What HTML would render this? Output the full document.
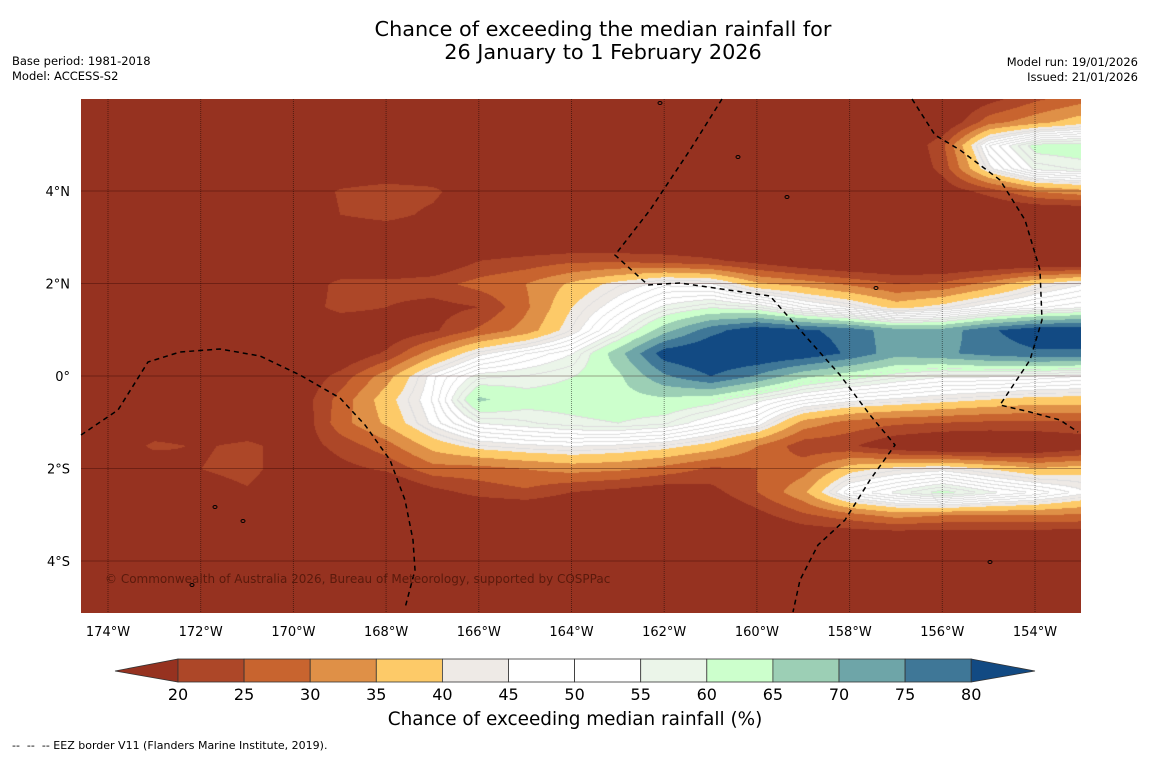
<!DOCTYPE html>
<html><head><meta charset="utf-8">
<style>
body{margin:0;background:#fff;font-family:"DejaVu Sans","Liberation Sans",sans-serif;}
#wrap{position:relative;width:1150px;height:758px;overflow:hidden;background:#fff;}
.t{position:absolute;white-space:nowrap;color:#000;}
</style></head><body>
<div id="wrap">
<div class="t" style="left:0;width:1206px;text-align:center;top:18px;font-size:20.8px;line-height:23px;">Chance of exceeding the median rainfall for<br>26 January to 1 February 2026</div>
<div class="t" style="left:12px;top:54px;font-size:11.5px;line-height:15px;">Base period: 1981-2018<br>Model: ACCESS-S2</div>
<div class="t" style="right:12px;top:55px;font-size:11.5px;line-height:15px;text-align:right;">Model run: 19/01/2026<br>Issued: 21/01/2026</div>
<canvas id="map" width="1000" height="514" style="position:absolute;left:81px;top:99px;"></canvas>
<svg id="ov" width="1150" height="758" style="position:absolute;left:0;top:0;"></svg>
<div class="t" style="left:105px;top:572px;font-size:12px;color:#5a1a0c;">© Commonwealth of Australia 2026, Bureau of Meteorology, supported by COSPPac</div>
<div class="t" style="left:0;width:1150px;text-align:center;top:709px;font-size:18.4px;">Chance of exceeding median rainfall (%)</div>
<div class="t" style="left:12px;top:739px;font-size:11px;">--&nbsp; --&nbsp; -- EEZ border V11 (Flanders Marine Institute, 2019).</div>
</div>
<script>
// grid longitudes (deg, negative = W) and latitudes
const lons=[-175,-174,-173,-172,-171,-170,-169,-168,-167,-166,-165,-164,-163,-162,-161,-160,-159,-158,-157,-156,-155,-154,-153];
const lats=[6,5.5,5,4.5,4,3.5,3,2.5,2,1.5,1,0.5,0,-0.5,-1,-1.5,-2,-2.5,-3,-3.5,-4,-4.5,-5,-5.5];
// chance of exceeding median (%) per lat row
const r6  =[19,19,16,12,12,12,12,12,12,12,12,12,12,12,12,12,12,12,12,12,18,24,28];
const r55 =[14,14,12,12,12,12,12,12,12,12,12,12,12,12,12,12,12,12,12,14,28,33,38];
const r5  =[12,12,12,12,12,12,12,12,12,12,12,12,12,12,12,12,12,12,12,24,50,62,63];
const r45 =[12,12,12,12,12,12,12,12,12,12,12,12,12,12,12,12,12,12,12,22,44,56,58];
const r4  =[12,12,12,12,12,12,21,24,22,12,12,12,12,12,12,12,12,12,12,16,22,30,33];
const r35 =[12,12,12,12,12,12,20,23,18,12,12,12,12,12,12,12,12,12,12,12,12,12,12];
const r3  =[12,12,12,12,12,12,12,12,12,12,12,12,12,12,12,12,12,12,12,12,12,12,12];
const r25 =[12,12,12,12,12,12,12,12,14,20,22,24,24,23,21,18,14,12,12,12,12,12,12];
const r2  =[12,12,12,12,12,14,22,22,23,27,30,36,42,47,46,36,33,29,25,26,32,40,45];
const r15 =[12,12,12,12,12,16,22,20,18,20,29,40,48,56,60,58,50,45,38,42,48,52,55];
const r1  =[12,12,12,12,12,12,14,15,19,26,32,43,55,68,78,84,81,78,72,72,79,84,84];
const r05 =[12,12,12,12,12,12,14,21,33,44,50,55,68,83,86,86,84,79,72,74,77,79,79];
const r0  =[12,12,12,12,12,14,22,33,47,57,58,60,64,74,80,74,66,62,58,55,55,54,52];
const rm05=[12,12,12,12,12,15,27,38,48,66,62,62,63,64,62,56,50,46,44,42,40,38,38];
const rm1 =[12,12,12,12,12,14,28,36,46,55,57,59,60,58,52,47,33,28,26,25,24,24,24];
const rm15=[12,12,22,19,22,16,22,28,37,42,44,45,44,42,38,30,22,21,15,12,12,13,16];
const rm2 =[12,12,12,20,23,14,18,21,28,28,30,32,31,28,24,25,28,38,42,44,40,36,38];
const rm25=[12,12,12,15,19,12,12,12,18,22,24,20,18,16,18,25,34,50,56,62,56,52,46];
const rm3 =[12,12,12,12,12,12,12,12,12,12,12,12,12,12,12,18,24,28,32,30,30,30,29];
const rm35=[12,12,12,12,12,12,12,12,12,12,12,12,12,12,12,12,14,14,14,14,14,14,14];
const rm4 =[12,12,12,12,12,12,12,12,12,12,12,12,12,12,12,12,12,12,12,12,12,12,12];
const rm45=[24,14,12,12,12,12,12,12,12,12,12,12,12,12,12,12,12,12,12,12,12,12,12];
const rm5 =[18,12,12,12,12,12,12,12,12,12,12,12,12,12,12,12,12,12,12,12,12,12,12];
const rm55=[12,12,12,12,12,12,12,12,12,12,12,12,12,12,12,12,12,12,12,12,12,12,12];
const grid=[r6,r55,r5,r45,r4,r35,r3,r25,r2,r15,r1,r05,r0,rm05,rm1,rm15,rm2,rm25,rm3,rm35,rm4,rm45,rm5,rm55];
const levels=[20,25,30,35,40,45,50,55,60,65,70,75,80];
const lonTicks=[-174,-172,-170,-168,-166,-164,-162,-160,-158,-156,-154];
const latTicks=[4,2,0,-2,-4];
const colors=['#963220','#ad4728','#c8642f','#df9047','#fdca68','#eeeae6','#ffffff','#ffffff','#ebf5e9','#ccffcc','#9ccfb5','#6ea5a8','#3f7797','#124a83'];

const X0=108,PXD=46.35,Y0=376,PYD=46.25;
const xOf=lon=>X0+(lon+174)*PXD;
const yOf=lat=>Y0-lat*PYD;
const lonOf=x=>-174+(x-X0)/PXD;
const latOf=y=>(Y0-y)/PYD;

function val(lon,lat){
  let fi=(lon-lons[0])/(lons[1]-lons[0]);
  let fj=(lats[0]-lat)/(lats[0]-lats[1]);
  fi=Math.max(0,Math.min(lons.length-1.001,fi));
  fj=Math.max(0,Math.min(lats.length-1.001,fj));
  const i=Math.floor(fi),j=Math.floor(fj),a=fi-i,b=fj-j;
  return grid[j][i]*(1-a)*(1-b)+grid[j][i+1]*a*(1-b)+grid[j+1][i]*(1-a)*b+grid[j+1][i+1]*a*b;
}
function bin(v){let k=0;for(const l of levels){if(v>=l)k++;}return k;}
function hex(c){return [parseInt(c.slice(1,3),16),parseInt(c.slice(3,5),16),parseInt(c.slice(5,7),16)];}
const rgb=colors.map(hex);

const cv=document.getElementById('map');const ctx=cv.getContext('2d');
const W=1000,H=514;const img=ctx.createImageData(W,H);
const vals=new Float32Array(W*H);
for(let y=0;y<H;y++)for(let x=0;x<W;x++){vals[y*W+x]=val(lonOf(x+81),latOf(y+99));}
for(let y=0;y<H;y++)for(let x=0;x<W;x++){
  const v=vals[y*W+x];let c=rgb[bin(v)];
  if(v>42&&v<62&&x>0&&y>0){
    const q=Math.floor(v/2.5),ql=Math.floor(vals[y*W+x-1]/2.5),qu=Math.floor(vals[(y-1)*W+x]/2.5);
    if(q!==ql||q!==qu)c=[222,222,222];
  }
  const p=(y*W+x)*4;img.data[p]=c[0];img.data[p+1]=c[1];img.data[p+2]=c[2];img.data[p+3]=255;
}
ctx.putImageData(img,0,0);

const NS='http://www.w3.org/2000/svg';const ov=document.getElementById('ov');
function mk(tag,attrs){const e=document.createElementNS(NS,tag);for(const k in attrs)e.setAttribute(k,attrs[k]);ov.appendChild(e);return e;}
for(const lon of lonTicks){
  const x=xOf(lon);
  const g=mk('line',{x1:x,x2:x,y1:99,y2:613,stroke:'rgba(0,0,0,0.45)','stroke-width':1,'stroke-dasharray':'1,1'});
  
  
  const t=mk('text',{x:x,y:636,'text-anchor':'middle','font-size':13,'font-family':'DejaVu Sans, Liberation Sans, sans-serif'});
  t.textContent=Math.abs(lon)+'°W';
  
  
}
for(const lat of latTicks){
  const y=yOf(lat);
  const g=mk('line',{x1:81,x2:1081,y1:y,y2:y,stroke:'rgba(40,0,0,0.35)','stroke-width':1});
  
  
  const t=mk('text',{x:70,y:y+5,'text-anchor':'end','font-size':13,'font-family':'DejaVu Sans, Liberation Sans, sans-serif'});
  t.textContent=lat===0?'0°':Math.abs(lat)+'°'+(lat>0?'N':'S');
  
  
}
const eez=[
 [[81,435],[118,410],[148,362],[180,352],[220,349],[260,356],[300,375],[340,398],[365,425],[390,460],[405,500],[413,540],[415,570],[405,608]],
 [[722,99],[690,150],[650,210],[615,255],[648,285],[680,283],[770,296],[800,330],[840,375],[870,415],[895,445],[870,480],[845,520],[818,545],[800,580],[793,612]],
 [[912,99],[935,135],[960,150],[1000,180],[1025,220],[1040,270],[1042,320],[1030,360],[1000,405],[1030,412],[1060,420],[1078,432]]
];
for(const p of eez){
  const e=mk('polyline',{points:p.map(q=>q.join(',')).join(' '),fill:'none',stroke:'#000','stroke-width':1.5,'stroke-dasharray':'5,4'});
  
  
}
for(const q of [[660,103],[738,157],[787,197],[876,288],[215,507],[192,585],[990,562],[243,521]]){
  const d=mk('ellipse',{cx:q[0],cy:q[1],rx:2,ry:1.5,fill:'none',stroke:'#000','stroke-width':1});
  
  
}
const cbL=178,cbW=66.1,cbY=659,cbH=23;
const lt=mk('polygon',{points:`115,${cbY+12} ${cbL},${cbY} ${cbL},${cbY+cbH}`,fill:colors[0],stroke:'#333','stroke-width':0.8});


for(let k=0;k<levels.length-1;k++){
  const r=mk('rect',{x:cbL+k*cbW,y:cbY,width:cbW,height:cbH,fill:colors[k+1],stroke:'#333','stroke-width':0.8});
  
  
}
const rEnd=cbL+(levels.length-1)*cbW;
const rt=mk('polygon',{points:`${rEnd},${cbY} 1035,${cbY+12} ${rEnd},${cbY+cbH}`,fill:colors[13],stroke:'#333','stroke-width':0.8});


levels.forEach((l,k)=>{
  const t=mk('text',{x:cbL+k*cbW,y:700,'text-anchor':'middle','font-size':16,'font-family':'DejaVu Sans, Liberation Sans, sans-serif'});
  t.textContent=l;
  
  
});
</script>
</body></html>
